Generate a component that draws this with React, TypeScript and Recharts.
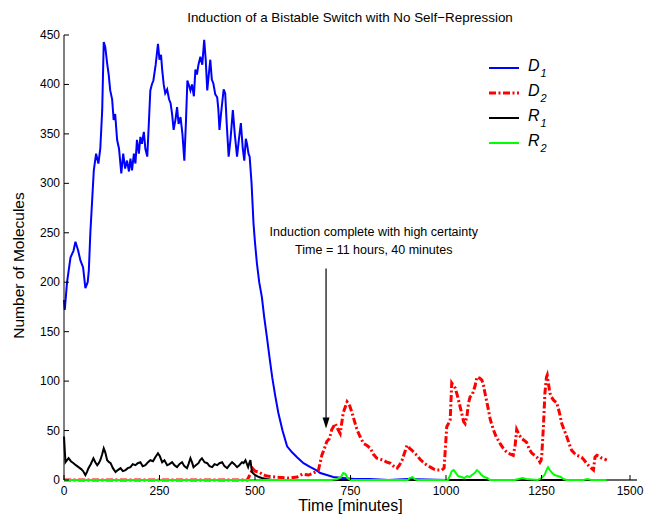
import React from 'react';
import { LineChart, Line, XAxis, YAxis, Legend, ReferenceLine, ReferenceDot, Label } from 'recharts';

const FONT = '"Liberation Sans", Arial, Helvetica, sans-serif';

const chartTitle = 'Induction of a Bistable Switch with No Self\u2212Repression';
const xAxisTitle = 'Time [minutes]';
const yAxisTitle = 'Number of Molecules';
const noteLine1 = 'Induction complete with high certainty';
const noteLine2 = 'Time = 11 hours, 40 minutes';

const xTicks = [0, 250, 500, 750, 1000, 1250, 1500];
const yTicks = [0, 50, 100, 150, 200, 250, 300, 350, 400, 450];
const xDomain = [0, 1500];
const yDomain = [0, 450];

const seriesNames = ['D1', 'D2', 'R1', 'R2'];
const legendBase = ['D', 'D', 'R', 'R'];
const legendSub = ['1', '2', '1', '2'];
const seriesColors = ['#0000ff', '#ff0000', '#000000', '#00ff00'];

// annotation (arrow from -> to, text anchor) in data units
const arrowTime = 686;
const arrowFrom = 214;
const arrowTo = 52;
const noteTime = 811;
const noteLevel = 246.5;
const simulationEnd = 1421;

// D1 (blue)
const d1Time = [0, 2, 8, 17, 25, 30, 37, 43, 50, 56, 62, 65, 69, 74, 78, 84, 90, 95, 100, 104, 108, 113, 117, 121, 126, 130, 134, 139, 144, 150, 155, 160, 165, 170, 174, 178, 183, 187, 191, 196, 200, 204, 209, 213, 218, 222, 226, 230, 234, 240, 246, 250, 254, 257, 261, 265, 270, 275, 279, 283, 287, 292, 296, 300, 305, 310, 315, 319, 323, 328, 331, 335, 340, 344, 348, 352, 357, 362, 367, 371, 375, 379, 383, 387, 391, 396, 401, 404, 407, 411, 414, 418, 422, 426, 431, 436, 442, 447, 453, 458, 463, 468, 472, 476, 479, 483, 486, 491, 496, 500, 505, 511, 518, 524, 531, 538, 545, 553, 561, 572, 584, 597, 610, 627, 645, 660, 671, 688, 705, 730, 760, 800, 850, 900, 1000, 1100, 1200, 1300, 1420];
const d1Count = [182, 172, 200, 225, 232, 241, 232, 222, 215, 194, 200, 212, 250, 285, 313, 330, 320, 335, 374, 443, 438, 421, 410, 394, 385, 364, 370, 344, 335, 310, 330, 315, 323, 312, 325, 313, 330, 320, 344, 330, 347, 340, 352, 335, 327, 360, 394, 400, 404, 420, 441, 425, 430, 415, 400, 391, 395, 385, 381, 370, 354, 365, 377, 360, 367, 350, 323, 360, 404, 398, 394, 400, 388, 415, 410, 420, 428, 420, 445, 425, 394, 410, 425, 405, 401, 390, 387, 375, 354, 370, 381, 395, 391, 360, 327, 345, 374, 350, 327, 345, 361, 335, 323, 345, 340, 330, 327, 300, 260, 240, 219, 200, 185, 165, 145, 124, 104, 85, 68, 50, 34, 28, 23, 17, 13, 10, 7, 5, 3, 2, 1, 1, 0, 1, 0, 0, 0, 0, 0];

// D2 (red)
const d2Time = [0, 480, 490, 493, 500, 510, 519, 530, 553, 588, 610, 624, 640, 653, 666, 675, 682, 688, 695, 701, 710, 716, 723, 731, 741, 748, 754, 760, 767, 775, 784, 793, 802, 810, 819, 828, 836, 845, 854, 863, 872, 878, 885, 892, 898, 905, 911, 918, 924, 932, 940, 950, 959, 968, 976, 989, 995, 998, 1002, 1008, 1011, 1015, 1020, 1024, 1030, 1037, 1042, 1046, 1050, 1055, 1059, 1063, 1068, 1071, 1076, 1081, 1088, 1094, 1098, 1102, 1109, 1116, 1124, 1130, 1137, 1143, 1150, 1157, 1163, 1170, 1176, 1181, 1185, 1191, 1198, 1205, 1211, 1218, 1225, 1232, 1238, 1243, 1246, 1249, 1251, 1255, 1259, 1263, 1265, 1268, 1272, 1276, 1281, 1290, 1297, 1303, 1310, 1316, 1323, 1329, 1336, 1342, 1349, 1355, 1362, 1368, 1377, 1386, 1390, 1395, 1402, 1408, 1415, 1421];
const d2Count = [0, 0, 8, 12, 9, 8, 6, 4, 3, 2, 3, 6, 5, 7, 10, 25, 32, 39, 42, 51, 57, 52, 47, 68, 79, 75, 68, 60, 51, 44, 37, 35, 32, 26, 22, 21, 20, 18, 17, 14, 12, 15, 20, 28, 35, 32, 30, 27, 25, 21, 18, 15, 13, 11, 10, 10, 12, 30, 54, 58, 61, 98, 95, 93, 85, 74, 66, 59, 57, 65, 78, 84, 86, 89, 95, 104, 103, 101, 96, 88, 75, 61, 51, 45, 40, 36, 32, 29, 27, 26, 25, 35, 51, 46, 42, 40, 38, 31, 27, 25, 23, 20, 18, 20, 27, 54, 88, 104, 106, 98, 88, 84, 81, 78, 68, 57, 50, 44, 36, 30, 27, 25, 24, 23, 20, 17, 13, 10, 23, 25, 24, 22, 21, 20];

// R1 (black)
const r1Time = [0, 2, 4, 8, 12, 18, 25, 31, 38, 45, 50, 56, 60, 64, 70, 77, 82, 87, 91, 95, 100, 104, 108, 113, 118, 122, 128, 135, 141, 148, 154, 161, 167, 174, 180, 187, 193, 200, 206, 213, 220, 226, 233, 239, 246, 251, 257, 263, 270, 276, 283, 289, 296, 302, 309, 315, 322, 326, 331, 335, 339, 345, 352, 356, 361, 368, 375, 381, 388, 394, 401, 407, 414, 420, 427, 433, 440, 446, 453, 459, 466, 470, 475, 478, 482, 485, 488, 492, 497, 501, 510, 518, 530, 545, 1420];
const r1Count = [44, 30, 18, 20, 22, 19, 17, 15, 13, 11, 9, 5, 8, 12, 16, 22, 18, 15, 17, 20, 26, 32, 28, 20, 18, 17, 12, 8, 10, 12, 9, 10, 12, 13, 16, 15, 17, 18, 14, 15, 18, 20, 19, 23, 27, 24, 18, 20, 15, 16, 18, 15, 13, 16, 18, 14, 12, 16, 22, 18, 13, 15, 17, 20, 22, 18, 17, 14, 13, 16, 15, 17, 18, 14, 12, 15, 18, 16, 13, 15, 18, 17, 20, 17, 13, 17, 20, 8, 6, 5, 3, 2, 1, 0, 0];

// R2 (green)
const r2Time = [0, 700, 715, 725, 731, 737, 742, 750, 900, 905, 912, 918, 925, 1005, 1010, 1015, 1020, 1026, 1032, 1040, 1048, 1055, 1062, 1068, 1075, 1081, 1087, 1093, 1100, 1108, 1115, 1180, 1190, 1200, 1210, 1240, 1250, 1258, 1263, 1267, 1272, 1278, 1284, 1292, 1300, 1308, 1315, 1360, 1370, 1380, 1421];
const r2Count = [0, 0, 1, 3, 7, 6, 2, 0, 0, 2, 3, 1, 0, 0, 4, 9, 10, 7, 4, 3, 2, 4, 3, 5, 7, 10, 8, 5, 3, 2, 0, 0, 1, 2, 1, 0, 2, 5, 10, 13, 10, 7, 5, 4, 3, 1, 0, 0, 1, 0, 0];

const zip = (t: number[], v: number[]) => t.map((x, i) => ({ t: x, v: v[i] }));
const seriesData = [zip(d1Time, d1Count), zip(d2Time, d2Count), zip(r1Time, r1Count), zip(r2Time, r2Count)];
const seriesDash = [undefined, '7 2.5 2 2.5', undefined, undefined];
const seriesWidth = [2, 3, 2, 2];

const XTick = (props: any) => {
  const { x, y, payload } = props;
  return (
    <g>
      <line x1={x} x2={x} y1={y} y2={y - 5} stroke="#000" strokeWidth={1} />
      <text x={x} y={y + 15} textAnchor="middle" fontSize={12} fontFamily={FONT} fill="#000">
        {payload.value}
      </text>
    </g>
  );
};

const YTick = (props: any) => {
  const { x, y, payload } = props;
  return (
    <g>
      <line x1={x} x2={x + 5} y1={y} y2={y} stroke="#000" strokeWidth={1} />
      <text x={x - 4} y={y + 4} textAnchor="end" fontSize={12} fontFamily={FONT} fill="#000">
        {payload.value}
      </text>
    </g>
  );
};

const ArrowShape = (props: any) => {
  const { x1, y1, x2, y2 } = props;
  return (
    <g>
      <line x1={x1} y1={y1} x2={x2} y2={y2 - 9} stroke="#000" strokeWidth={1.2} />
      <polygon points={`${x2},${y2} ${x2 - 3.5},${y2 - 11} ${x2 + 3.5},${y2 - 11}`} fill="#000" />
    </g>
  );
};

const NoteShape = (props: any) => {
  const { cx, cy } = props;
  return (
    <g>
      <text x={cx} y={cy} textAnchor="middle" fontSize={12.5} fontFamily={FONT} fill="#000">{noteLine1}</text>
      <text x={cx} y={cy + 18} textAnchor="middle" fontSize={12.5} fontFamily={FONT} fill="#000">{noteLine2}</text>
    </g>
  );
};

const LegendBox = () => (
  <svg width={130} height={110} style={{ display: 'block' }}>
    {legendBase.map((b, i) => {
      const y = 18 + i * 25;
      return (
        <g key={i}>
          <line x1={9} x2={39} y1={y} y2={y} stroke={seriesColors[i]} strokeWidth={seriesWidth[i]} strokeDasharray={seriesDash[i]} />
          <text x={48} y={y + 3} fontSize={16} fontStyle="italic" fontFamily={FONT} fill="#000">
            {b}
            <tspan fontSize={11} dx={1} dy={6}>{legendSub[i]}</tspan>
          </text>
        </g>
      );
    })}
  </svg>
);

export default function App() {
  return (
    <div style={{ position: 'absolute', left: 0, top: 0, width: 646, height: 517, background: '#fff' }}>
      <div
        style={{
          position: 'absolute', left: 150, top: 10, width: 400, textAlign: 'center',
          fontFamily: FONT, fontSize: 13.4, lineHeight: '15px', color: '#000', zIndex: 2,
        }}
      >
        {chartTitle}
      </div>
      <LineChart width={646} height={517} margin={{ top: 35, right: 9, bottom: 7, left: 4 }}>
        <XAxis
          dataKey="t"
          type="number"
          domain={xDomain}
          ticks={xTicks}
          height={30}
          tickSize={0}
          tickMargin={0}
          tickLine={false}
          tick={<XTick />}
          axisLine={false}
        >
          <Label
            content={(p: any) => {
              const vb = p.viewBox;
              return (
                <text x={vb.x + vb.width / 2} y={511} textAnchor="middle" fontSize={16} fontFamily={FONT} fill="#000">
                  {xAxisTitle}
                </text>
              );
            }}
          />
        </XAxis>
        <YAxis
          type="number"
          domain={yDomain}
          ticks={yTicks}
          width={60}
          tickSize={0}
          tickMargin={0}
          tickLine={false}
          tick={<YTick />}
          axisLine={{ stroke: '#000', strokeWidth: 1 }}
        >
          <Label
            content={(p: any) => {
              const vb = p.viewBox;
              const cy = vb.y + vb.height / 2 + 8;
              return (
                <text x={24} y={cy} transform={`rotate(-90 24 ${cy})`} textAnchor="middle" fontSize={15.5} fontFamily={FONT} fill="#000">
                  {yAxisTitle}
                </text>
              );
            }}
          />
        </YAxis>
        {seriesData.map((d, i) => (
          <Line
            key={seriesNames[i]}
            data={d}
            dataKey="v"
            name={seriesNames[i]}
            type="linear"
            stroke={seriesColors[i]}
            strokeWidth={seriesWidth[i]}
            strokeDasharray={seriesDash[i]}
            dot={false}
            activeDot={false}
            isAnimationActive={false}
          />
        ))}
        <ReferenceLine
          segment={[{ x: simulationEnd, y: 0 }, { x: xDomain[1], y: 0 }]}
          stroke="#000"
          strokeWidth={1.2}
        />
        <ReferenceLine
          segment={[{ x: arrowTime, y: arrowFrom }, { x: arrowTime, y: arrowTo }]}
          shape={<ArrowShape />}
        />
        <ReferenceDot x={noteTime} y={noteLevel} r={0} shape={<NoteShape />} />
        <Legend
          layout="vertical"
          align="center"
          verticalAlign="middle"
          content={<LegendBox />}
          wrapperStyle={{ position: 'absolute', left: 480, top: 50, width: 130, height: 110 }}
        />
      </LineChart>
    </div>
  );
}
